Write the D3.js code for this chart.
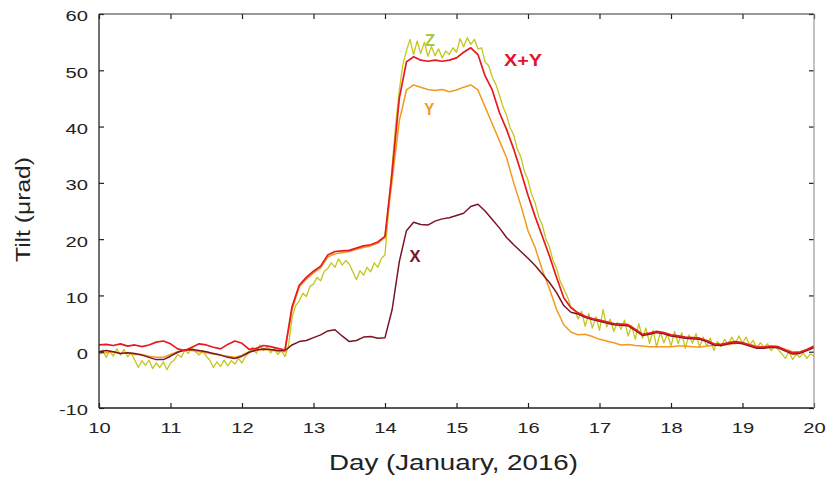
<!DOCTYPE html>
<html>
<head>
<meta charset="utf-8">
<script src="https://cdn.jsdelivr.net/npm/d3@7"></script>
<style>
  html, body { margin: 0; padding: 0; background: #fff; }
  svg { display: block; font-family: "Liberation Sans", Arial, sans-serif; }
</style>
</head>
<body>
<svg id="chart" width="828" height="477"></svg>
<script>
// ---------------- DATA ----------------
const xTicks = [10, 11, 12, 13, 14, 15, 16, 17, 18, 19, 20];
const yTicks = [-10, 0, 10, 20, 30, 40, 50, 60];

// smooth series sampled every 0.1 day from day 10.0 to 20.0
const daysSmooth = d3.range(0, 101).map(i => +(10 + i * 0.1).toFixed(2));
// Z sampled every 0.05 day from day 10.0 to 20.0
const daysZ = d3.range(0, 201).map(i => +(10 + i * 0.05).toFixed(2));

const seriesXY = [
  1.2, 1.3, 1.1, 1.4, 1.0, 1.2, 0.9, 1.2, 1.7, 1.9,   // 10.0-10.9
  1.4, 0.5, 0.2, 0.8, 1.4, 1.2, 0.8, 0.5, 1.3, 1.9,   // 11.0-11.9
  1.5, 0.4, 0.6, 1.1, 0.9, 0.6, 0.3, 8.0, 11.8, 13.2, // 12.0-12.9
  14.3, 15.2, 17.2, 17.8, 17.9, 18.0, 18.4, 18.8, 19.0, 19.5, // 13
  20.5, 32.0, 45.0, 51.5, 52.4, 51.8, 51.6, 51.8, 51.6, 51.8, // 14
  52.2, 53.2, 54.0, 52.8, 49.0, 46.5, 42.5, 39.5, 36.0, 32.0, // 15
  27.8, 24.0, 20.5, 17.0, 13.2, 9.6, 7.8, 6.9, 6.3, 5.9,      // 16
  5.6, 5.3, 5.0, 4.9, 4.8, 4.0, 3.1, 3.3, 3.6, 3.4,           // 17
  3.0, 2.8, 2.6, 2.5, 2.4, 2.0, 1.4, 1.3, 1.6, 1.8,           // 18
  1.6, 1.2, 0.8, 0.8, 1.0, 0.9, 0.3, -0.2, -0.1, 0.4,         // 19
  1.0                                                          // 20
];

const seriesY = [
  -0.3, -0.2, 0.0, -0.3, -0.2, -0.5, -0.5, -0.8, -1.0, -1.0,
  -0.5, 0.0, 0.3, 0.2, 0.0, -0.2, -0.4, -0.6, -0.8, -1.0,
  -0.6, 0.0, 0.3, 0.4, 0.3, 0.1, 0.0, 7.5, 11.5, 12.9,
  14.0, 14.9, 16.8, 17.4, 17.6, 17.8, 18.2, 18.5, 18.8, 19.3,
  20.3, 30.5, 41.0, 46.5, 47.4, 47.0, 46.6, 46.4, 46.6, 46.2,
  46.5, 47.0, 47.4, 46.5, 43.5, 40.5, 37.5, 34.5, 30.0, 26.0,
  21.5, 18.5, 14.5, 11.2, 7.5, 4.8, 3.5, 3.0, 3.1, 2.7,
  2.2, 1.9, 1.6, 1.2, 1.3, 1.1, 1.0, 0.9, 0.9, 0.9,
  0.9, 1.0, 1.0, 0.9, 0.8, 1.0, 1.1, 1.2, 1.3, 1.5,
  1.6, 1.3, 1.0, 0.8, 0.9, 0.8, 0.4, 0.0, 0.0, 0.3,
  0.6
];

const seriesX = [
  0.0, 0.2, 0.0, -0.3, -0.2, -0.3, -0.6, -1.0, -1.4, -1.4,
  -0.8, -0.1, 0.3, 0.4, 0.2, 0.0, -0.3, -0.6, -1.0, -1.2,
  -0.8, -0.1, 0.3, 0.5, 0.4, 0.2, 0.2, 1.2, 1.8, 2.0,
  2.5, 3.0, 3.7, 3.9, 2.8, 1.8, 2.0, 2.6, 2.7, 2.4,
  2.5, 7.5, 16.0, 21.5, 23.0, 22.6, 22.5, 23.2, 23.6, 23.8,
  24.2, 24.6, 25.8, 26.2, 25.0, 23.5, 22.0, 20.3, 19.0, 17.8,
  16.6, 15.3, 13.8, 12.3, 10.5, 8.2, 7.0, 6.7, 6.1, 5.7,
  5.4, 5.1, 4.8, 4.7, 4.6, 3.8, 2.9, 3.1, 3.4, 3.2,
  2.8, 2.6, 2.4, 2.3, 2.2, 1.8, 1.2, 1.1, 1.4, 1.6,
  1.4, 1.0, 0.6, 0.6, 0.8, 0.7, 0.1, -0.4, -0.3, 0.2,
  0.8
];

const seriesZ = [
  -0.5, 0.3, -1.0, 0.2, -0.8, 0.5, -0.6, 0.4, -0.9, -0.2,        // 10.00-10.45
  -1.5, -2.8, -1.6, -2.4, -1.5, -3.0, -2.0, -2.8, -1.8, -3.2,    // 10.50-10.95
  -2.0, -1.5, -0.5, -1.0, 0.3, -0.3, 0.8, 0.0, -0.6, 0.2,        // 11.00-11.45
  -0.8, -1.5, -2.8, -1.8, -2.6, -1.5, -2.5, -1.6, -2.2, -1.2,    // 11.50-11.95
  -2.0, -0.8, -0.2, 0.8, -0.3, 1.2, 0.2, 0.9, -0.2, 0.6,         // 12.00-12.45
  -0.5, 0.3, -0.9, 1.0, 6.0, 8.2, 9.0, 10.4, 9.8, 11.6,          // 12.50-12.95
  12.0, 13.2, 12.6, 14.3, 14.8, 15.8, 15.0, 16.5, 15.4, 16.2,    // 13.00-13.45
  15.6, 14.2, 12.8, 14.4, 13.6, 15.0, 14.2, 15.8, 15.0, 16.6,    // 13.50-13.95
  17.2, 25.0, 33.0, 40.5, 46.5, 51.0, 53.5, 55.5, 52.8, 55.2,    // 14.00-14.45
  53.0, 55.0, 52.5, 54.2, 52.6, 53.8, 52.2, 53.4, 52.8, 54.0,    // 14.50-14.95
  53.2, 55.6, 54.2, 55.8, 54.6, 55.5, 53.8, 54.0, 51.5, 50.8,    // 15.00-15.45
  48.8, 47.5, 45.6, 43.5, 42.0, 39.8, 38.5, 36.0, 34.6, 32.0,    // 15.50-15.95
  30.5, 28.0, 26.4, 24.0, 22.5, 20.0, 18.6, 16.2, 14.8, 12.5,    // 16.00-16.45
  11.2, 9.8, 8.0, 7.5, 5.8, 7.2, 4.5, 6.8, 4.2, 6.2,             // 16.50-16.95
  3.8, 7.5, 4.4, 5.8, 3.6, 5.2, 4.0, 5.6, 2.8, 4.6,              // 17.00-17.45
  2.2, 5.0, 2.4, 4.2, 1.5, 3.8, 0.8, 3.5, 1.6, 3.2,              // 17.50-17.95
  1.0, 3.6, 1.4, 3.4, 0.6, 3.0, 1.5, 3.2, 0.8, 2.6,              // 18.00-18.45
  1.0, 2.4, 0.2, 1.8, 0.9, 2.2, 1.2, 2.6, 1.4, 2.8,              // 18.50-18.95
  1.5, 2.6, 1.2, 2.0, 0.6, 1.6, 0.8, 1.4, 0.2, 1.0,              // 19.00-19.45
  0.4, -0.4, -1.2, 0.0, -1.4, -0.4, -1.0, -0.2, -1.2, -0.4,      // 19.50-19.95
  -0.8                                                            // 20.00
];

const labels = [
  { text: "Z",   day: 14.63, val: 54.3, color: "#a9c832", len: 10 },
  { text: "X+Y", day: 15.93, val: 50.8, color: "#e0142a", len: 38 },
  { text: "Y",   day: 14.62, val: 42.0, color: "#ef9a1e", len: 10 },
  { text: "X",   day: 14.42, val: 16.0, color: "#7a1428", len: 11 }
];

// ---------------- LAYOUT ----------------
const W = 828, H = 477;
const margin = { left: 99, top: 14, right: 14, bottom: 69 };
const iw = W - margin.left - margin.right;
const ih = H - margin.top - margin.bottom;

const svg = d3.select("#chart");
const g = svg.append("g").attr("transform", `translate(${margin.left},${margin.top})`);

const x = d3.scaleLinear().domain([10, 20]).range([0, iw]);
const y = d3.scaleLinear().domain([-10, 60]).range([ih, 0]);

const line = d3.line().x(d => x(d[0])).y(d => y(d[1]));

const zip = (days, vals) => days.map((d, i) => [d, vals[i]]);

const series = [
  { data: zip(daysZ, seriesZ), color: "#c4c61c", width: 1.3 },
  { data: zip(daysSmooth, seriesY), color: "#f29a1e", width: 1.5 },
  { data: zip(daysSmooth, seriesX), color: "#7a1428", width: 1.5 },
  { data: zip(daysSmooth, seriesXY), color: "#e8191e", width: 1.7 }
];

g.selectAll("path.series")
  .data(series)
  .enter().append("path")
  .attr("class", "series")
  .attr("fill", "none")
  .attr("stroke", d => d.color)
  .attr("stroke-width", d => d.width)
  .attr("stroke-linejoin", "round")
  .attr("d", d => line(d.data));

// ---------------- AXES ----------------
const tickFont = 15.5;
const stretch = 1.3;
const fmt = d => String(d);

const xAxis = g.append("g")
  .attr("transform", `translate(0,${ih})`)
  .call(d3.axisBottom(x).tickValues(xTicks).tickFormat(fmt)
    .tickSizeInner(-5).tickSizeOuter(0).tickPadding(14));

const yAxis = g.append("g")
  .call(d3.axisLeft(y).tickValues(yTicks).tickFormat(fmt)
    .tickSizeInner(-5).tickSizeOuter(0).tickPadding(11));

const topAxis = g.append("g")
  .call(d3.axisTop(x).tickValues(xTicks).tickFormat("")
    .tickSizeInner(-5).tickSizeOuter(0));

const rightAxis = g.append("g")
  .attr("transform", `translate(${iw},0)`)
  .call(d3.axisRight(y).tickValues(yTicks).tickFormat("")
    .tickSizeInner(-5).tickSizeOuter(0));

[xAxis, yAxis, topAxis, rightAxis].forEach(a => {
  a.select(".domain").remove();
  a.selectAll(".tick line").attr("stroke", "#222").attr("stroke-width", 1.2);
});

[xAxis, yAxis].forEach(a => {
  a.selectAll(".tick text")
    .attr("font-family", "Liberation Sans, Arial, sans-serif")
    .attr("font-size", tickFont)
    .attr("fill", "#222")
    .each(function() {
      const L = this.getComputedTextLength();
      d3.select(this).attr("textLength", L * stretch).attr("lengthAdjust", "spacingAndGlyphs");
    });
});
yAxis.selectAll(".tick text").attr("dy", "0.45em");

// frame
g.append("line").attr("x1", 0).attr("x2", 0).attr("y1", 0).attr("y2", ih).attr("stroke", "#222").attr("stroke-width", 1.3);
g.append("line").attr("x1", 0).attr("x2", iw).attr("y1", ih).attr("y2", ih).attr("stroke", "#222").attr("stroke-width", 1.3);
g.append("line").attr("x1", 0).attr("x2", iw).attr("y1", 0).attr("y2", 0).attr("stroke", "#333").attr("stroke-width", 1.2);
g.append("line").attr("x1", iw).attr("x2", iw).attr("y1", 0).attr("y2", ih).attr("stroke", "#999").attr("stroke-width", 1.2);

// axis titles
svg.append("text")
  .attr("x", 453.5).attr("y", 470)
  .attr("text-anchor", "middle")
  .attr("font-size", 22)
  .attr("fill", "#222")
  .attr("textLength", 249).attr("lengthAdjust", "spacingAndGlyphs")
  .text("Day (January, 2016)");

svg.append("text")
  .attr("transform", "translate(30,209.5) rotate(-90)")
  .attr("text-anchor", "middle")
  .attr("font-size", 20)
  .attr("fill", "#222")
  .attr("textLength", 105).attr("lengthAdjust", "spacingAndGlyphs")
  .text("Tilt (μrad)");

// series labels
g.selectAll("text.lbl")
  .data(labels)
  .enter().append("text")
  .attr("class", "lbl")
  .attr("x", d => x(d.day))
  .attr("y", d => y(d.val))
  .attr("text-anchor", "middle")
  .attr("font-size", 16)
  .attr("font-weight", "bold")
  .attr("fill", d => d.color)
  .attr("textLength", d => d.len).attr("lengthAdjust", "spacingAndGlyphs")
  .text(d => d.text);
</script>
</body>
</html>
